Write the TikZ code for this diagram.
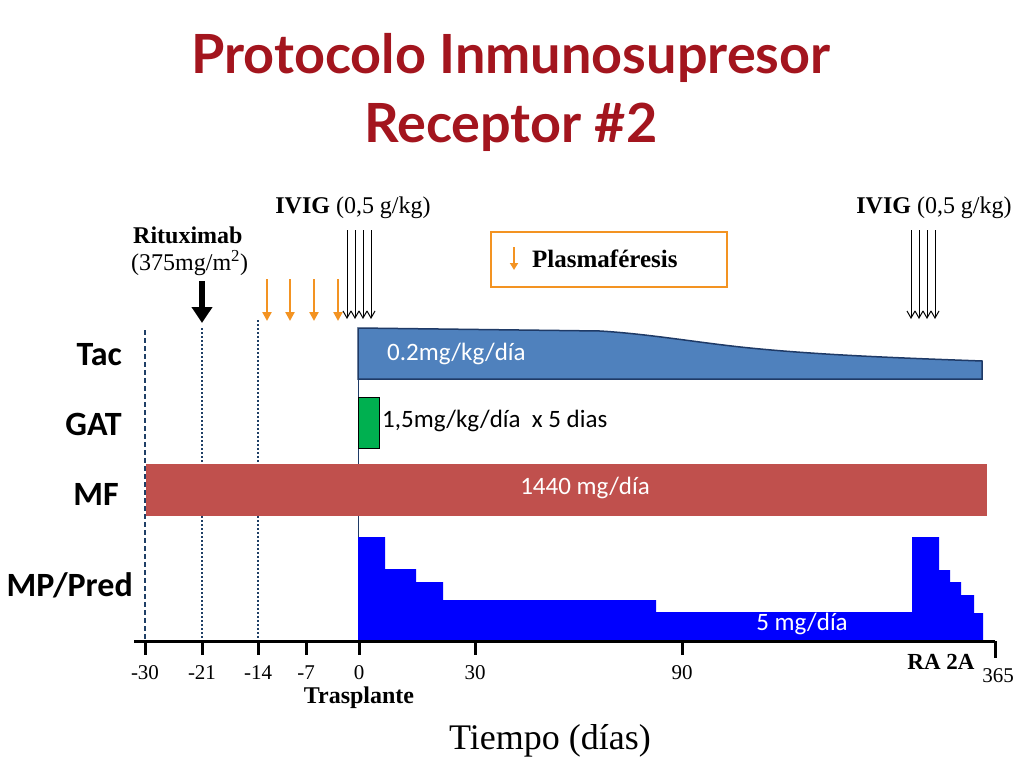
\documentclass[tikz,border=0pt]{standalone}
\usepackage{fontspec}
\setmainfont{Liberation Serif}
\newfontfamily\titlefont{Lato}
\newfontfamily\calib{Carlito}
\usetikzlibrary{arrows.meta}
\definecolor{titlered}{HTML}{A3151E}
\definecolor{tacblue}{HTML}{4F81BD}
\definecolor{tacedge}{HTML}{1F3A66}
\definecolor{gatgreen}{HTML}{00B050}
\definecolor{mfred}{HTML}{C0504D}
\definecolor{mpblue}{HTML}{0000FF}
\definecolor{plorange}{HTML}{F39322}
\definecolor{guide}{HTML}{1F3F66}
\tikzset{
  rowlabel/.style={anchor=east,inner sep=0pt,font=\calib\bfseries\fontsize{34}{36}\selectfont},
  ticklabel/.style={inner sep=0pt,font=\fontsize{21}{23}\selectfont},
  barlabel/.style={inner sep=0pt,text=white,font=\calib\fontsize{25}{27}\selectfont},
  ivig/.style={line width=1pt,-{Straight Barb[length=7pt,width=8pt,line width=1pt]}},
  plasma/.style={plorange,line width=2.6pt,-{Triangle[length=9pt,width=9pt]}},
  ritux/.style={line width=6pt,-{Triangle[length=16pt,width=20pt]}},
  axtick/.style={line width=3pt},
  guideline/.style={guide,line width=1.2pt},
  sertext/.style={inner sep=0pt,font=\fontsize{24}{26}\selectfont},
}
\begin{document}
\begin{tikzpicture}[x=1pt,y=-1pt]
\useasboundingbox (0,0) rectangle (1024,768);
% title
\node[text=titlered,font=\titlefont\bfseries\fontsize{54}{58}\selectfont,inner sep=0pt] (t1) at (511,58) {Protocolo Inmunosupresor};
\node[text=titlered,font=\titlefont\bfseries\fontsize{54}{58}\selectfont,inner sep=0pt] (t2) at (511,127) {Receptor \#2};
% guide lines
\draw[guideline,dash pattern=on 5pt off 3pt] (145,330) -- (145,640);
\draw[guideline,dash pattern=on 2pt off 2pt] (202,328) -- (202,640);
\draw[guideline,dash pattern=on 2pt off 2pt] (258,320) -- (258,640);
% transplant line
\draw[tacedge,line width=1pt] (358,379) -- (358,640);
% MF bar
\fill[mfred] (146,464) rectangle (987,516);
\node[barlabel] (mftext) at (585,488) {1440 mg/día};
% Tac shape
\filldraw[fill=tacblue,draw=tacedge,line width=1.5pt] (358,328) -- (600,331) .. controls (650,334) and (700,343) .. (750,348) .. controls (820,355) and (900,358) .. (982,361) -- (982,379) -- (358,379) -- cycle;
\node[barlabel,anchor=west] (tactext) at (387,354) {0.2mg/kg/día};
% GAT
\filldraw[fill=gatgreen,draw=black,line width=0.8pt] (358,397) rectangle (379,448);
\node[inner sep=0pt,anchor=west,font=\calib\fontsize{25}{27}\selectfont] (gattext) at (382,421) {1,5mg/kg/día\ \ x 5 dias};
% MP/Pred steps
\fill[mpblue] (358,640) -- (358,537) -- (385,537) -- (385,569) -- (416,569) -- (416,582) -- (443,582) -- (443,600) -- (656,600) -- (656,612) -- (912,612) -- (912,537) -- (939,537) -- (939,570) -- (950,570) -- (950,582) -- (961,582) -- (961,595) -- (974,595) -- (974,613) -- (983,613) -- (983,640) -- cycle;
\node[barlabel] (mptext) at (802,624) {5 mg/día};
% row labels
\node[rowlabel] (tac) at (122,355) {Tac};
\node[rowlabel] (gat) at (122,424) {GAT};
\node[rowlabel] (mf) at (119,494) {MF};
\node[rowlabel] (mp) at (133,585) {MP/Pred};
% axis
\draw[line width=3pt] (134,641) -- (995,641);
\foreach \x/\l in {145/-30,202/-21,258/-14,306/-7,359/0,475/30,682/90} {
  \draw[axtick] (\x,641) -- (\x,655);
  \node[ticklabel] at (\x,673) {\l};
}
\draw[axtick] (995,641) -- (995,658);
\node[ticklabel] (t365) at (998,676) {365};
\node[inner sep=0pt,font=\bfseries\fontsize{23}{25}\selectfont] (ra) at (941,662) {RA 2A};
\node[inner sep=0pt,font=\bfseries\fontsize{24}{26}\selectfont] (trasp) at (359,698) {Trasplante};
\node[inner sep=0pt,font=\fontsize{36}{38}\selectfont] (tiempo) at (550,741) {Tiempo (días)};
% Rituximab
\node[sertext,anchor=west,font=\bfseries\fontsize{24}{26}\selectfont] (ritlab) at (133,235) {Rituximab};
\node[sertext,anchor=west] (ritdose) at (131,263) {(375mg/m\textsuperscript{2})};
\coordinate (r0) at (202,281);
\coordinate (r1) at (202,323);
\draw[ritux] (r0) -- (r1);
% plasmaferesis arrows
\foreach \x in {267,290,314,338} {\draw[plasma] (\x,279) -- (\x,321);}
% IVIG left
\node[sertext] (ivig1) at (353,208) {\textbf{IVIG} (0,5 g/kg)};
\foreach \x in {347,355,363,371} {\draw[ivig] (\x,230) -- (\x,319);}
% IVIG right
\node[sertext] (ivig2) at (934,208) {\textbf{IVIG} (0,5 g/kg)};
\foreach \x in {911,919,927,935} {\draw[ivig] (\x,230) -- (\x,319);}
% legend box
\draw[plorange,line width=2.5pt] (491,232) rectangle (727,287);
\draw[plasma,line width=2.2pt,-{Triangle[length=7pt,width=8pt]}] (514,247) -- (514,270);
\node[inner sep=0pt,anchor=west,font=\bfseries\fontsize{25}{27}\selectfont] (pllab) at (532,259) {Plasmaféresis};
\end{tikzpicture}
\end{document}
